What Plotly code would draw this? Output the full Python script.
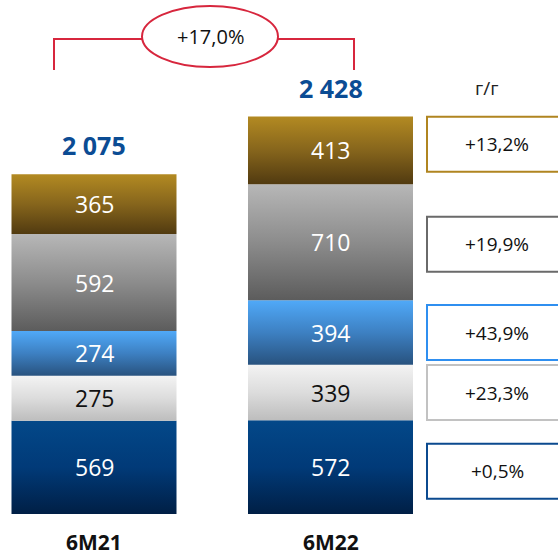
import plotly.graph_objects as go

# ---------------- data ----------------
periods = ["6M21", "6M22"]
segments = ["seg_navy", "seg_white", "seg_blue", "seg_gray", "seg_gold"]  # bottom -> top
values_6m21 = [569, 275, 274, 592, 365]
values_6m22 = [572, 339, 394, 710, 413]
totals = [2075, 2428]
total_labels = ["2 075", "2 428"]
yoy_labels = ["+0,5%", "+23,3%", "+43,9%", "+19,9%", "+13,2%"]
growth_label = "+17,0%"
yoy_header = "г/г"

# ---------------- styles ----------------
grad_bottom = ["#001f45", "#bdbdbd", "#28527e", "#5c5c5c", "#513a10"]
grad_mid = ["#013a78", "#dcdcdc", "#3d80c2", "#8c8c8c", "#86651c"]
grad_top = ["#034889", "#f3f3f3", "#50a9f8", "#b7b7b7", "#b38a22"]
text_colors = ["white", "#111111", "white", "white", "white"]
box_colors = ["#0b4a8f", "#c2c2c2", "#2f8ff0", "#6a6a6a", "#b08520"]
box_offsets_px = [-4, 0, 0, -2, 6]  # vertical nudges of the y/y boxes (px, up positive)
RED = "#d7263d"
BLUE_TXT = "#0b4c94"
FONT = "Open Sans"

W, H = 558, 556
MB = 42
PLOT_H = H - MB
PX_PER_UNIT = 0.1637
YMAX = PLOT_H / PX_PER_UNIT
x_pos = [0, 1]
PX_PER_X = 236.5
XMIN = -94 / PX_PER_X
XMAX = XMIN + W / PX_PER_X
HALF = 82.5 / PX_PER_X


def px(xp):
    return xp / W


def py(yp):
    return (PLOT_H - yp) / PLOT_H


fig = go.Figure()
annotations = []
shapes = []

all_values = [values_6m21, values_6m22]
for bi, vals in enumerate(all_values):
    base = 0
    xc = x_pos[bi]
    for si, v in enumerate(vals):
        b, t = base, base + v
        fig.add_trace(go.Scatter(
            x=[xc - HALF, xc + HALF, xc + HALF, xc - HALF, xc - HALF],
            y=[b, b, t, t, b],
            mode="lines", fill="toself", line=dict(width=0),
            fillgradient=dict(type="vertical", start=b, stop=t,
                              colorscale=[[0, grad_bottom[si]], [0.5, grad_mid[si]], [1, grad_top[si]]]),
            hoverinfo="skip", showlegend=False))
        annotations.append(dict(x=xc, y=(b + t) / 2, xref="x", yref="y", text=str(v),
                                showarrow=False, xanchor="center", yanchor="middle", yshift=0,
                                font=dict(family=FONT, size=23, color=text_colors[si])))
        base = t

# totals above bars, period labels below
for bi in range(2):
    annotations.append(dict(x=x_pos[bi], y=totals[bi], xref="x", yref="y", text=f"<b>{total_labels[bi]}</b>",
                            showarrow=False, xanchor="center", yanchor="middle", yshift=29,
                            font=dict(family=FONT, size=25, color=BLUE_TXT)))
    annotations.append(dict(x=x_pos[bi], y=0, xref="x", yref="paper", text=f"<b>{periods[bi]}</b>",
                            showarrow=False, xanchor="center", yanchor="middle", yshift=-28, borderpad=0,
                            font=dict(family=FONT, size=21, color="#111111")))

# y/y boxes next to the second bar
base = 0
for si, v in enumerate(values_6m22):
    mid = base + v / 2
    base += v
    shapes.append(dict(type="rect", xref="paper", yref="y", x0=px(427), x1=px(568),
                       ysizemode="pixel", yanchor=mid, y0=-27.5 + box_offsets_px[si], y1=27.5 + box_offsets_px[si],
                       line=dict(color=box_colors[si], width=2), fillcolor="white", layer="above"))
    annotations.append(dict(x=px(497), y=mid, xref="paper", yref="y", text=yoy_labels[si],
                            showarrow=False, xanchor="center", yanchor="middle", yshift=box_offsets_px[si],
                            font=dict(family=FONT, size=19, color="#111111")))

annotations.append(dict(x=px(486), y=py(88), xref="paper", yref="paper", text=yoy_header,
                        showarrow=False, xanchor="center", yanchor="middle",
                        font=dict(family=FONT, size=19, color="#222222")))

# growth bracket + ellipse
shapes.append(dict(type="path", xref="paper", yref="paper",
                   path=f"M {px(54)} {py(70)} L {px(54)} {py(39)} L {px(142)} {py(39)}",
                   line=dict(color=RED, width=2)))
shapes.append(dict(type="path", xref="paper", yref="paper",
                   path=f"M {px(278)} {py(39)} L {px(354)} {py(39)} L {px(354)} {py(70)}",
                   line=dict(color=RED, width=2)))
shapes.append(dict(type="circle", xref="paper", yref="paper",
                   x0=px(142), x1=px(278), y0=py(67), y1=py(6),
                   line=dict(color=RED, width=2), fillcolor="white"))
annotations.append(dict(x=px(210), y=py(37), xref="paper", yref="paper", text=growth_label,
                        showarrow=False, xanchor="center", yanchor="middle",
                        font=dict(family=FONT, size=20, color="#111111")))

fig.update_layout(
    width=W, height=H,
    margin=dict(l=0, r=0, t=0, b=MB),
    paper_bgcolor="white", plot_bgcolor="white",
    xaxis=dict(range=[XMIN, XMAX], visible=False, fixedrange=True),
    yaxis=dict(range=[0, YMAX], visible=False, fixedrange=True),
    shapes=shapes, annotations=annotations,
    showlegend=False,
)

fig.write_html("out.html", config={"displayModeBar": False},
               post_script="document.body.style.margin='0';document.body.style.overflow='hidden';")
